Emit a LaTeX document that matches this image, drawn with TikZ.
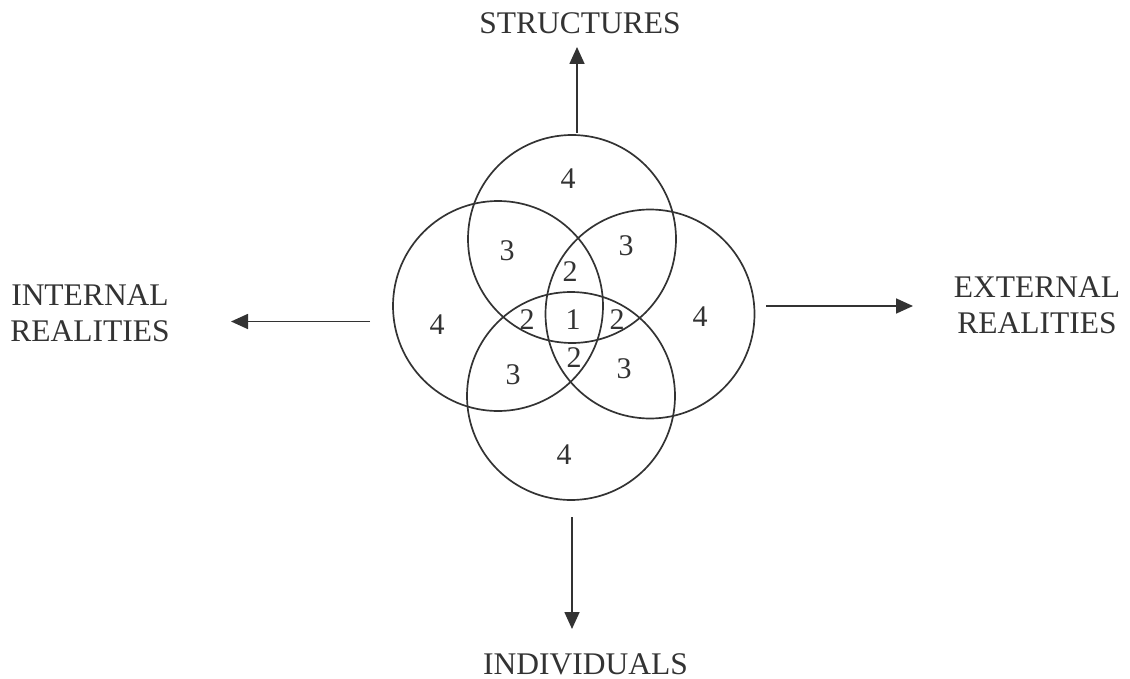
\documentclass[tikz,border=0pt]{standalone}
\usepackage{fontspec}
\setmainfont{Liberation Serif}
\usetikzlibrary{arrows.meta}
\definecolor{ink}{HTML}{333333}
\begin{document}
\begin{tikzpicture}[x=1pt,y=-1pt,
  ring/.style={draw=ink,line width=1.7pt},
  num/.style={text=ink,font=\fontsize{30}{34}\selectfont,inner sep=0pt},
  lab/.style={text=ink,font=\fontsize{31.5}{36}\selectfont,align=center,inner sep=0pt},
  arr/.style={draw=ink,line width=1.7pt,-{Triangle[width=15pt,length=17pt]}}]
\useasboundingbox (0,0) rectangle (1130,679);
\draw[ring] (572,239) circle[radius=104];
\draw[ring] (498,306) circle[radius=105];
\draw[ring] (650,314) circle[radius=104.5];
\draw[ring] (571,396) circle[radius=104];
% region numbers
\node[num] (n4t) at (568,179) {4};
\node[num] (n4l) at (437,325) {4};
\node[num] (n4r) at (700,317) {4};
\node[num] (n4b) at (564,455) {4};
\node[num] (n3tl) at (507,251) {3};
\node[num] (n3tr) at (626,246) {3};
\node[num] (n3bl) at (513,375) {3};
\node[num] (n3br) at (624,369) {3};
\node[num] (n2t) at (570,272) {2};
\node[num] (n2l) at (527,320) {2};
\node[num] (n1) at (573,320) {1};
\node[num] (n2r) at (617,320) {2};
\node[num] (n2b) at (574,358) {2};
% labels
\node[lab] (struct) at (580,23) {STRUCTURES};
\node[lab] (intern) at (90,313) {INTERNAL\\REALITIES};
\node[lab] (extern) at (1037,305) {EXTERNAL\\REALITIES};
\node[lab] (indiv) at (585.5,664) {INDIVIDUALS};
% arrow ends
\coordinate (ua) at (577,133);
\coordinate (ub) at (577,47);
\coordinate (la) at (370,321.5);
\coordinate (lb) at (231,321.5);
\coordinate (ra) at (766,306);
\coordinate (rb) at (913,306);
\coordinate (da) at (572,517);
\coordinate (db) at (572,629);
\draw[arr] (ua) -- (ub);
\draw[arr] (la) -- (lb);
\draw[arr] (ra) -- (rb);
\draw[arr] (da) -- (db);
\end{tikzpicture}
\end{document}
